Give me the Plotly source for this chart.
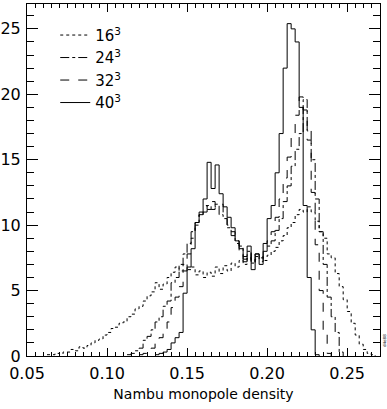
import numpy as np
import plotly.graph_objects as go

# histogram bins of width 0.0025, each series listed from its first bin
bin_width = 0.0025

start_16 = 0.0625
dens_16 = [0.1, 0.1, 0.2, 0.15, 0.3, 0.3, 0.5, 0.4, 0.7, 0.6,
           0.8, 1.0, 1.2, 1.3, 1.6, 1.8, 2.1, 2.2, 2.5, 2.6,
           3.0, 3.2, 3.6, 3.8, 4.2, 4.6, 4.9, 5.6, 5.1, 5.5,
           6.0, 6.4, 6.8, 6.5, 7.0, 6.6, 6.8, 6.2, 6.5, 6.0,
           6.4, 6.1, 6.8, 6.3, 6.9, 6.5, 7.1, 6.8, 7.3, 7.0,
           7.5, 7.1, 7.4, 7.6, 7.3, 7.7, 8.0, 8.3, 8.8, 9.2,
           9.8, 10.2, 10.8, 11.2, 11.0, 11.4, 11.0, 10.3, 9.5, 9.0,
           7.8, 7.5, 6.3, 5.3, 4.3, 3.4, 2.5, 1.6, 0.9, 0.5,
           0.2, 0.1]

start_24 = 0.1125
dens_24 = [0.1, 0.2, 0.4, 0.6, 1.2, 1.5, 2.0, 2.6, 3.0, 3.8,
           4.2, 5.6, 6.0, 7.0, 7.8, 8.6, 9.5, 10.2, 10.8, 11.0,
           11.5, 11.2, 11.6, 10.8, 10.5, 9.8, 9.5, 8.8, 8.4, 7.6,
           8.0, 7.2, 7.8, 7.5, 8.0, 8.4, 8.8, 9.6, 10.5, 11.8,
           13.0, 14.5, 15.8, 17.0, 19.6, 17.2, 15.0, 12.0, 9.5, 7.0,
           4.5, 3.0, 1.8, 0.3]

start_32 = 0.12
dens_32 = [0.1, 0.2, 0.4, 0.6, 1.0, 1.4, 1.8, 2.6, 3.7, 4.5,
           5.3, 6.5, 7.8, 9.0, 10.0, 10.8, 11.5, 11.2, 11.8, 11.4,
           11.6, 10.6, 10.0, 9.2, 8.6, 8.0, 7.4, 7.9, 7.0, 7.6,
           7.2, 8.0, 8.8, 9.5, 10.6, 12.0, 13.6, 15.2, 16.8, 18.4,
           19.8, 18.8, 16.5, 12.5, 8.5, 5.0, 2.0, 0.2]

start_40 = 0.13
dens_40 = [0.1, 0.2, 0.3, 0.5, 1.0, 1.4, 1.8, 4.8, 6.8, 8.2,
           10.2, 11.0, 12.0, 14.8, 12.8, 14.6, 12.4, 11.4, 10.6, 9.8,
           8.8, 8.2, 7.2, 8.4, 6.6, 7.8, 7.0, 8.6, 10.5, 11.5,
           14.0, 17.0, 22.0, 25.4, 25.0, 24.0, 19.0, 11.5, 6.0, 2.0,
           0.1]

series = [
    ("16<sup>3</sup>", start_16, dens_16, "dot"),
    ("24<sup>3</sup>", start_24, dens_24, "dashdot"),
    ("32<sup>3</sup>", start_32, dens_32, "dash"),
    ("40<sup>3</sup>", start_40, dens_40, "solid"),
]

fig = go.Figure()
for name, x0, vals, dash in series:
    edges = x0 + bin_width * np.arange(len(vals) + 1)
    fig.add_trace(go.Scatter(x=edges, y=list(vals) + [0], mode="lines", name=name,
                             line=dict(color="black", width=1, dash=dash, shape="hv")))

fnt = "DejaVu Sans, Verdana, sans-serif"
fig.update_layout(
    width=387, height=409,
    margin=dict(l=27, r=7, t=4, b=53),
    plot_bgcolor="white", paper_bgcolor="white",
    font=dict(family=fnt, size=16, color="black"),
    legend=dict(x=0.08, y=0.958, xanchor="left", yanchor="top", bgcolor="rgba(0,0,0,0)",
                font=dict(size=15), itemwidth=30, tracegroupgap=0),
)
fig.update_xaxes(range=[0.05, 0.2705], showgrid=False, zeroline=False, showline=True,
                 linecolor="black", linewidth=1, mirror="ticks", automargin=False,
                 ticks="inside", ticklen=8, tickcolor="black", dtick=0.05, tick0=0.05,
                 tickformat=".2f", tickfont=dict(size=16), ticklabelstandoff=3,
                 minor=dict(ticks="inside", ticklen=4, dtick=0.005, tickcolor="black"),
                 title=dict(text="Nambu monopole density", font=dict(size=14), standoff=6))
fig.update_yaxes(range=[0, 26.9], showgrid=False, zeroline=False, showline=True,
                 linecolor="black", linewidth=1, mirror="ticks", automargin=False,
                 ticks="inside", ticklen=11, tickcolor="black", dtick=5,
                 tickfont=dict(size=16), ticklabelstandoff=2,
                 minor=dict(ticks="inside", ticklen=7, dtick=1, tickcolor="black"))

fig.add_annotation(x=1.0, y=0.02, xref="paper", yref="paper", xanchor="left", yanchor="bottom",
                   text="d4e88", textangle=-90, showarrow=False, font=dict(size=4))

fig.write_html("out.html", config={"displayModeBar": False},
               post_script="document.body.style.margin='0';")
